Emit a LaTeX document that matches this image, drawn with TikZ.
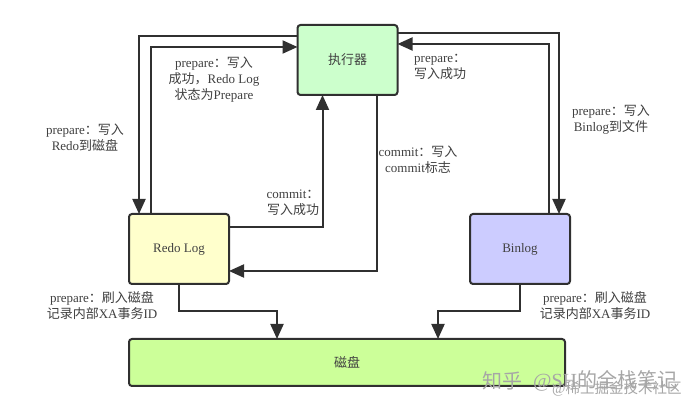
\documentclass[tikz,border=0pt]{standalone}
\usepackage{fontspec}
\usetikzlibrary{arrows.meta}
\setmainfont{Liberation Serif}
\newfontfamily\cjk{Noto Sans CJK SC}
\newcommand{\zh}[1]{{\cjk #1}}
\definecolor{execfill}{HTML}{CCFFCC}
\definecolor{redofill}{HTML}{FFFFCC}
\definecolor{binfill}{HTML}{CCCCFF}
\definecolor{diskfill}{HTML}{CCFF99}
\definecolor{linegray}{HTML}{303030}
\definecolor{textgray}{HTML}{404040}
\tikzset{
    boxnode/.style={draw=linegray, line width=2pt, rounded corners=3pt, outer sep=0pt, inner sep=0pt,
        minimum width=100pt, minimum height=70pt, text=textgray, font=\fontsize{13}{15}\selectfont},
    flow/.style={draw=linegray, line width=2pt, -{Triangle[length=15pt,width=13pt]}},
    note/.style={text=textgray, align=center, inner sep=0pt, font=\fontsize{13}{16}\selectfont},
    mark text/.style={text=black!35, inner sep=0pt, anchor=west}
}
\begin{document}
\begin{tikzpicture}[x=1pt, y=-1pt]
    \useasboundingbox (0,0) rectangle (696,411);
    \fill[white] (0,0) rectangle (696,411);

    % the four boxes
    \node[boxnode, fill=execfill] (exec) at (347.5,60) {\zh{执行器}};
    \node[boxnode, fill=redofill] (redo) at (179,249) {Redo Log};
    \node[boxnode, fill=binfill] (binlog) at (520,249) {Binlog};
    \node[boxnode, fill=diskfill, minimum width=436pt, minimum height=47pt] (disk) at (347,362.5) {\zh{磁盘}};

    % executor and redo log
    \draw[flow] ([yshift=-11pt]exec.north west) -| ([xshift=10pt]redo.north west);
    \draw[flow] ([xshift=22pt]redo.north west) |- ([yshift=-22pt]exec.north west);
    \draw[flow] ([yshift=-13pt]redo.north east) -| ([xshift=25pt]exec.south west);
    \draw[flow] ([xshift=79pt]exec.south west) |- ([yshift=13pt]redo.south east);

    % executor and binlog
    \draw[flow] ([yshift=-8pt]exec.north east) -| ([xshift=-11pt]binlog.north east);
    \draw[flow] ([xshift=-21pt]binlog.north east) |- ([yshift=-19pt]exec.north east);

    % down to the disk
    \coordinate (redodrop) at ([xshift=148pt]disk.north west);
    \coordinate (bindrop) at ([xshift=-127pt]disk.north east);
    \draw[flow] (redo.south) -- ++(0,27) -| (redodrop);
    \draw[flow] (binlog.south) -- ++(0,27) -| (bindrop);

    % labels
    \node[note] (l1) at (214,80) {prepare\zh{：写入}\\\zh{成功，}Redo Log\\\zh{状态为}Prepare};
    \node[note] (l2) at (85,138) {prepare\zh{：写入}\\Redo\zh{到磁盘}};
    \node[note] (l3) at (293,203) {commit\zh{：}\\\zh{写入成功}};
    \node[note] (l4) at (418,160) {commit\zh{：写入}\\commit\zh{标志}};
    \node[note, align=left, anchor=west] (l5) at (414,67) {prepare\zh{：}\\\zh{写入成功}};
    \node[note] (l6) at (611,120) {prepare\zh{：写入}\\Binlog\zh{到文件}};
    \node[note] (l7) at (102,306) {prepare\zh{：刷入磁盘}\\\zh{记录内部}XA\zh{事务}ID};
    \node[note] (l8) at (595,306) {prepare\zh{：刷入磁盘}\\\zh{记录内部}XA\zh{事务}ID};

    % watermark
    \node[mark text, font=\fontsize{20}{20}\selectfont] (m1) at (482,381) {\zh{知乎}};
    \node[mark text, font=\fontsize{20}{20}\selectfont] (m2) at (533,381) {@SH\zh{的全栈笔记}};
    \node[mark text, font=\fontsize{14.5}{14.5}\selectfont] (m3) at (552,389) {@\zh{稀土掘金技术社区}};
\end{tikzpicture}
\end{document}
